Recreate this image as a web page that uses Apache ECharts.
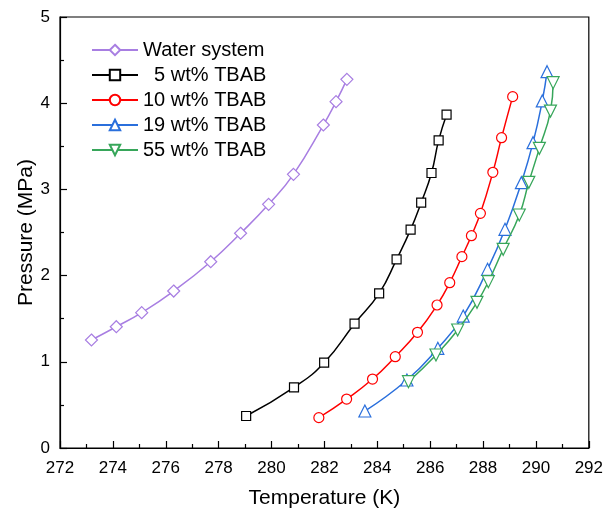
<!DOCTYPE html>
<html>
<head>
<meta charset="utf-8">
<script src="https://cdn.jsdelivr.net/npm/echarts@6/dist/echarts.min.js"></script>
<style>
  html, body { margin: 0; padding: 0; background: #fff; }
  #chart { width: 606px; height: 516px; }
</style>
</head>
<body>
<div id="chart"></div>
<script>
// Hydrate phase equilibrium: temperature (K) vs pressure (MPa)
const waterT = [273.19, 274.13, 275.09, 276.30, 277.70, 278.83, 279.89, 280.83, 281.96, 282.44, 282.85];
const waterP = [1.253, 1.407, 1.570, 1.821, 2.161, 2.491, 2.827, 3.175, 3.747, 4.018, 4.277];

const tbab5T = [279.04, 280.85, 281.99, 283.14, 284.07, 284.73, 285.26, 285.66, 286.05, 286.32, 286.62];
const tbab5P = [0.371, 0.704, 0.990, 1.442, 1.794, 2.189, 2.533, 2.846, 3.190, 3.569, 3.867];

const tbab10T = [281.79, 282.84, 283.82, 284.68, 285.52, 286.26, 286.74, 287.20, 287.56, 287.90, 288.37, 288.70, 289.12];
const tbab10P = [0.352, 0.568, 0.800, 1.059, 1.342, 1.659, 1.918, 2.220, 2.463, 2.722, 3.198, 3.600, 4.076];

const tbab19T = [283.53, 285.12, 286.29, 287.25, 288.17, 288.83, 289.45, 289.89, 290.24, 290.42];
const tbab19P = [0.429, 0.789, 1.156, 1.531, 2.073, 2.537, 3.078, 3.542, 4.026, 4.366];

const tbab55T = [285.18, 286.22, 287.04, 287.77, 288.20, 288.76, 289.37, 289.73, 290.13, 290.55, 290.65];
const tbab55P = [0.769, 1.079, 1.369, 1.690, 1.929, 2.305, 2.703, 3.082, 3.476, 3.909, 4.238];

const seriesNames = ['Water system', '  5 wt% TBAB', '10 wt% TBAB', '19 wt% TBAB', '55 wt% TBAB'];
const seriesColors = ['#a87ee2', '#000000', '#ff0000', '#2a6fdc', '#37a65a'];
const FONT = '"Liberation Sans", Arial, sans-serif';

function pairs(xs, ys) { return xs.map((x, i) => [x, ys[i]]); }

function makeSeries(idx, xs, ys, symbol, size, rotate) {
  return {
    name: seriesNames[idx],
    type: 'line',
    data: pairs(xs, ys),
    smooth: 0.5,
    symbol: symbol,
    symbolSize: size,
    symbolRotate: rotate || 0,
    showAllSymbol: true,
    lineStyle: { color: seriesColors[idx], width: 1.5 },
    itemStyle: { color: '#ffffff', borderColor: seriesColors[idx], borderWidth: 1.2 },
    emphasis: { disabled: true },
    animation: false,
    z: 2 + idx
  };
}

const chart = echarts.init(document.getElementById('chart'), null, { renderer: 'canvas' });
chart.setOption({
  backgroundColor: '#ffffff',
  animation: false,
  grid: {
    left: 60, right: 14, top: 17, bottom: 68,
    show: true, borderColor: '#000', borderWidth: 1.2, backgroundColor: 'transparent'
  },
  legend: {
    left: 86, top: 35, orient: 'vertical',
    itemWidth: 46, itemHeight: 13, itemGap: 5,
    textStyle: { fontFamily: FONT, fontSize: 20, color: '#000' },
    data: seriesNames
  },
  xAxis: {
    type: 'value', min: 272, max: 292, interval: 2,
    name: 'Temperature (K)', nameLocation: 'middle', nameGap: 40,
    nameTextStyle: { fontFamily: FONT, fontSize: 21, color: '#000' },
    axisLine: { show: true, lineStyle: { color: '#000', width: 1.2 } },
    axisTick: { show: true, inside: true, length: 7, lineStyle: { color: '#000', width: 1.2 } },
    minorTick: { show: true, splitNumber: 2, length: 4, lineStyle: { color: '#000', width: 1.2 } },
    axisLabel: { fontFamily: FONT, fontSize: 17, color: '#000', margin: 12 },
    splitLine: { show: false }
  },
  yAxis: {
    type: 'value', min: 0, max: 5, interval: 1,
    name: 'Pressure (MPa)', nameLocation: 'middle', nameGap: 23, nameMoveOverlap: false,
    nameTextStyle: { fontFamily: FONT, fontSize: 21, color: '#000' },
    axisLine: { show: true, lineStyle: { color: '#000', width: 1.2 } },
    axisTick: { show: true, inside: true, length: 7, lineStyle: { color: '#000', width: 1.2 } },
    minorTick: { show: true, splitNumber: 2, length: 4, lineStyle: { color: '#000', width: 1.2 } },
    axisLabel: { fontFamily: FONT, fontSize: 17, color: '#000', margin: 10 },
    splitLine: { show: false }
  },
  series: [
    makeSeries(0, waterT, waterP, 'diamond', 12),
    makeSeries(1, tbab5T, tbab5P, 'rect', 9),
    makeSeries(2, tbab10T, tbab10P, 'circle', 10),
    makeSeries(3, tbab19T, tbab19P, 'triangle', 12),
    makeSeries(4, tbab55T, tbab55P, 'triangle', 12, 180)
  ]
});
</script>
</body>
</html>
